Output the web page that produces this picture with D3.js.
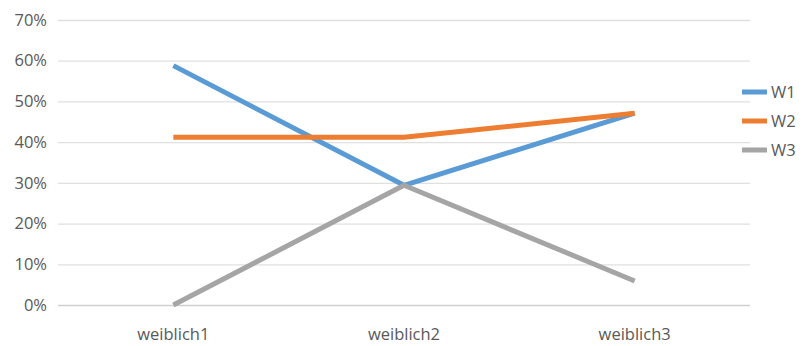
<!DOCTYPE html>
<html>
<head>
<meta charset="utf-8">
<script src="https://cdn.jsdelivr.net/npm/d3@7"></script>
<style>
  body { margin: 0; background: #fff; }
  text { font-family: "Open Sans", "Noto Sans", sans-serif; fill: #595959; }
</style>
</head>
<body>
<div id="chart"></div>
<script>
const categories = ['weiblich1', 'weiblich2', 'weiblich3']
const seriesNames = ['W1', 'W2', 'W3']
const w1 = [0.588, 0.294, 0.471]
const w2 = [0.412, 0.412, 0.471]
const w3 = [0.0, 0.294, 0.059]
const yTicks = [0, 0.1, 0.2, 0.3, 0.4, 0.5, 0.6, 0.7]
const colors = ['#5B9BD5', '#ED7D31', '#A5A5A5']

const width = 804, height = 346
const plotLeft = 58, plotRight = 750, plotTop = 20, plotBottom = 305
const fontSize = '16.5px'

const series = [w1, w2, w3].map((vals, i) => ({ name: seriesNames[i], values: vals, color: colors[i] }))

const svg = d3.select('#chart').append('svg')
    .attr('width', width)
    .attr('height', height)

const x = d3.scaleBand().domain(categories).range([plotLeft, plotRight])
const y = d3.scaleLinear().domain([0, 0.7]).range([plotBottom, plotTop])

// gridlines + y labels
const yAxis = svg.append('g')
    .attr('transform', 'translate(' + plotLeft + ',0)')
    .call(d3.axisLeft(y).tickValues(yTicks).tickFormat(d3.format('.0%')).tickSize(-(plotRight - plotLeft)).tickPadding(11))
yAxis.select('.domain').remove()
yAxis.selectAll('line').attr('stroke', d => d === 0 ? '#d0d0d0' : '#e0e0e0').attr('stroke-width', 1.3)
yAxis.selectAll('text').style('font-size', fontSize).attr('fill', '#595959')

// x labels
const xAxis = svg.append('g')
    .attr('transform', 'translate(0,' + plotBottom + ')')
    .call(d3.axisBottom(x).tickSize(0).tickPadding(23))
xAxis.select('.domain').remove()
xAxis.selectAll('text').style('font-size', fontSize).attr('fill', '#595959')

const line = d3.line()
    .x((d, i) => x(categories[i]) + x.bandwidth() / 2)
    .y(d => y(d))

svg.append('g').selectAll('path')
    .data(series)
    .enter().append('path')
    .attr('d', d => line(d.values))
    .attr('fill', 'none')
    .attr('stroke', d => d.color)
    .attr('stroke-width', 5)
    .attr('stroke-linejoin', 'round')

// legend
const legend = svg.append('g').selectAll('g')
    .data(series)
    .enter().append('g')
    .attr('transform', (d, i) => 'translate(742,' + (92 + i * 29) + ')')
legend.append('line')
    .attr('x2', 25)
    .attr('stroke', d => d.color)
    .attr('stroke-width', 5)
legend.append('text')
    .attr('x', 29)
    .attr('dy', '0.35em')
    .style('font-size', fontSize)
    .text(d => d.name)
</script>
</body>
</html>
